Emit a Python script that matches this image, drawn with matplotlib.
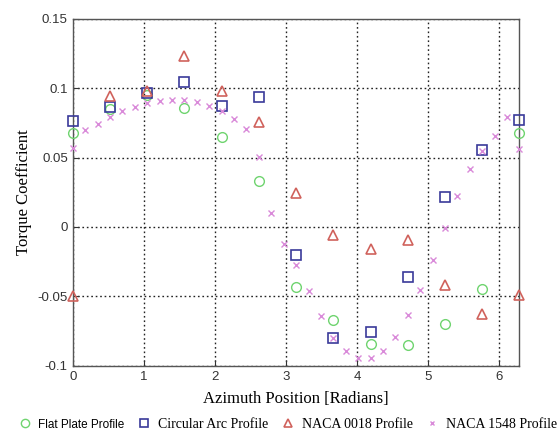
import numpy as np
import matplotlib
matplotlib.use("Agg")
import matplotlib.pyplot as plt
from matplotlib.ticker import FixedLocator, FuncFormatter

# azimuth stations (radians)
theta_coarse = np.arange(13) * np.pi / 6
theta_fine = np.arange(37) * np.pi / 18

flat_plate = [0.0677, 0.085, 0.095, 0.0855, 0.0648, 0.0331, -0.0435,
              -0.0669, -0.0841, -0.0852, -0.070, -0.0447, 0.0677]
circular_arc = [0.0766, 0.0865, 0.0967, 0.1046, 0.087, 0.0935, -0.0205,
                -0.080, -0.0754, -0.0362, 0.0213, 0.0556, 0.0768]
naca_0018 = [-0.0495, 0.0942, 0.0978, 0.1232, 0.0978, 0.0754, 0.0242,
             -0.0055, -0.0157, -0.0096, -0.0418, -0.0623, -0.049]
naca_1548 = [0.0568, 0.070, 0.0742, 0.079, 0.0833, 0.0862, 0.0894, 0.0909,
             0.0913, 0.0913, 0.0899, 0.087, 0.0838, 0.078, 0.0708, 0.0507,
             0.0101, -0.0125, -0.0273, -0.0464, -0.064, -0.080, -0.0893,
             -0.0942, -0.094, -0.0893, -0.079, -0.0635, -0.0451, -0.0236,
             -0.0007, 0.0222, 0.0418, 0.055, 0.0652, 0.079, 0.0563]

labels = ["Flat Plate Profile", "Circular Arc Profile",
          "NACA 0018 Profile", "NACA 1548 Profile"]

fig = plt.figure(figsize=(5.58, 4.34), dpi=100)
ax = fig.add_axes([0.1303, 0.157, 0.8007, 0.800])

h1, = ax.plot(theta_coarse, flat_plate, "o", ms=7, mfc="none", mec="#6fd46f",
              mew=1.0, clip_on=False, zorder=3)
h2, = ax.plot(theta_coarse, circular_arc, "s", ms=7, mfc="none", mec="#3a3a9a",
              mew=1.2, clip_on=False, zorder=3)
h3, = ax.plot(theta_coarse, naca_0018, "^", ms=7.5, mfc="none", mec="#d0625c",
              mew=1.2, clip_on=False, zorder=3)
h4, = ax.plot(theta_fine, naca_1548, "x", ms=4, mec="#d98ad9", mew=1.0,
              clip_on=False, zorder=3)

ax.set_xlim(0, 2 * np.pi)
ax.set_ylim(-0.1, 0.15)
ax.xaxis.set_major_locator(FixedLocator([0, 1, 2, 3, 4, 5, 6]))
ax.yaxis.set_major_locator(FixedLocator([-0.1, -0.05, 0, 0.05, 0.1, 0.15]))
ax.yaxis.set_major_formatter(FuncFormatter(lambda v, p: "%g" % round(v, 4)))
ax.tick_params(direction="in", length=4, width=0.8, colors="#333333",
               labelsize=9.5, labelcolor="#333333")
for lab in ax.get_xticklabels() + ax.get_yticklabels():
    lab.set_family("Liberation Sans")
ax.grid(True, color="#222222", linestyle=(0, (1.2, 2.0)), linewidth=1.0)
for sp in ax.spines.values():
    sp.set_color("#555555")
    sp.set_linewidth(1.0)

ax.set_xlabel("Azimuth Position [Radians]", family="Liberation Serif",
              fontsize=12, labelpad=6)
ax.set_ylabel("Torque Coefficient", family="Liberation Serif",
              fontsize=12, labelpad=4)

leg = fig.legend([h1, h2, h3, h4], labels, loc="lower center", ncol=4,
                 frameon=False, bbox_to_anchor=(0.515, -0.012),
                 handlelength=1.0, handletextpad=0.5, columnspacing=0.9,
                 borderaxespad=0.2, fontsize=10, markerscale=0.85)
for i, t in enumerate(leg.get_texts()):
    if i == 0:
        t.set_family("Liberation Sans")
        t.set_fontsize(8.5)
    else:
        t.set_family("Liberation Serif")

fig.savefig("out.png", dpi=100)
